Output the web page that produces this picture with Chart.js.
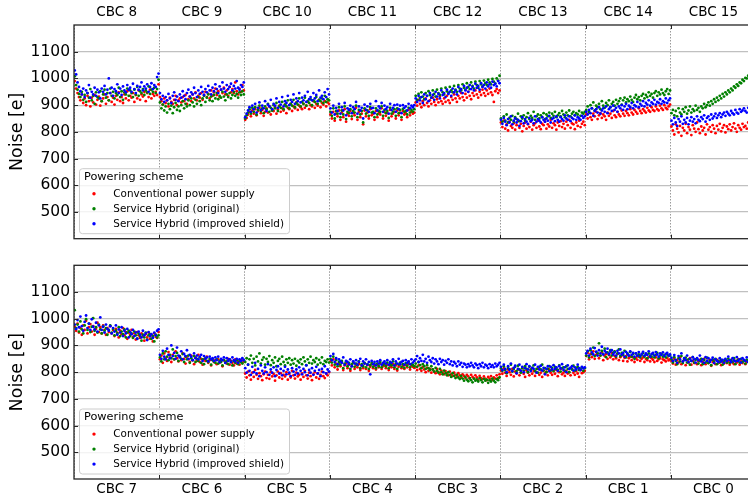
<!DOCTYPE html>
<html>
<head>
<meta charset="utf-8">
<script src="https://cdn.jsdelivr.net/npm/chart.js@4/dist/chart.umd.min.js"></script>
<style>
html, body { margin: 0; padding: 0; background: #fff; overflow: hidden; width: 748px; height: 499px; }
canvas { position: absolute; left: 0; }
#top { top: 0; }
#bottom { top: 252px; }
</style>
</head>
<body>
<canvas id="top" width="770" height="252"></canvas>
<canvas id="bottom" width="770" height="247"></canvas>
<script>
// chip labels of the two module sides
const topChips = ['CBC 8', 'CBC 9', 'CBC 10', 'CBC 11', 'CBC 12', 'CBC 13', 'CBC 14', 'CBC 15'];
const bottomChips = ['CBC 7', 'CBC 6', 'CBC 5', 'CBC 4', 'CBC 3', 'CBC 2', 'CBC 1', 'CBC 0'];
const noiseTicks = [500, 600, 700, 800, 900, 1000, 1100];
const legendTitle = 'Powering scheme';
const seriesLabels = ['Conventional power supply', 'Service Hybrid (original)', 'Service Hybrid (improved shield)'];
const seriesColors = ['#ff0000', '#008000', '#0000ff'];

// noise per channel, one row per chip
const topRed = [
  [990,962,945,930,918,940,908,925,900,935,915,895,928,910,938,902,920,932,898,915,925,940,905,930,918,945,912,928,902,935,920,948,915,930,908,940,925,952,918,935,928,945,912,938,925,955,920,940,932,950,915,945,930,958,925,942,935,950,938,978],
  [930,915,902,925,908,918,895,928,912,905,920,935,900,918,925,910,930,915,938,905,922,932,915,940,925,948,918,935,928,945,920,938,950,930,942,925,955,935,948,962,938,952,930,958,945,965,940,955,935,968,948,960,945,985,952,940,962,950,975,955],
  [845,852,865,875,858,880,868,885,862,878,890,870,882,860,875,888,872,895,865,880,878,892,868,885,898,875,888,880,902,870,890,885,905,878,895,888,910,882,898,892,885,905,890,898,912,885,900,895,915,890,905,898,920,892,908,902,915,895,910,905],
  [865,850,875,842,868,858,880,845,872,855,885,838,868,860,878,848,870,862,890,845,875,855,868,828,880,858,872,850,885,862,868,845,878,855,870,865,888,850,875,860,870,842,882,858,868,875,850,880,862,872,845,878,865,870,855,882,862,875,868,872],
  [910,898,920,905,892,915,900,925,908,895,918,905,928,912,900,922,910,932,915,905,925,912,935,918,908,930,920,940,925,912,935,925,945,930,918,942,928,950,935,922,945,935,955,940,928,950,938,958,945,935,955,942,962,948,938,912,952,960,945,955],
  [835,818,842,812,828,805,838,822,815,832,808,825,840,815,830,802,822,835,812,828,818,838,808,825,832,815,842,820,810,830,825,838,812,828,820,845,815,832,825,808,835,822,840,818,830,812,838,825,845,815,832,828,810,835,822,842,818,830,838,825],
  [865,850,872,855,845,868,858,875,848,862,870,852,865,858,845,872,860,868,852,878,862,855,875,865,858,880,868,860,878,870,862,885,872,865,882,875,868,888,878,870,885,878,872,890,880,875,892,882,878,895,885,880,898,888,882,900,890,885,895,902],
  [820,805,790,828,812,798,822,785,815,805,830,795,818,808,788,825,812,800,835,810,795,820,805,815,790,828,808,818,800,825,812,795,822,808,830,802,815,825,798,820,810,828,805,818,832,812,800,825,815,808,830,818,822,812,835,820,828,815,830,825]
];
const topGreen = [
  [1008,975,958,942,930,950,920,938,912,945,928,960,918,935,905,948,930,925,952,915,940,958,928,945,918,962,935,950,925,945,938,965,930,952,920,948,940,962,935,955,945,930,958,940,968,935,952,945,960,938,955,948,970,942,958,950,965,945,960,995],
  [910,888,902,880,895,872,905,885,898,870,892,908,882,895,878,900,915,888,905,895,918,900,925,910,895,920,905,930,915,900,925,935,912,928,940,918,932,915,938,925,945,922,935,928,950,932,918,940,930,945,925,938,950,935,942,928,948,938,952,940],
  [850,862,872,885,868,890,875,892,865,882,898,878,888,870,895,885,905,875,890,880,900,888,908,878,895,890,912,885,902,895,918,888,905,898,920,892,908,902,925,895,912,905,928,898,915,908,922,900,918,912,930,905,920,915,925,908,935,912,922,918],
  [875,860,888,850,878,868,892,855,880,865,895,848,875,870,885,858,878,872,898,855,882,865,878,835,888,868,880,860,892,872,875,855,888,865,878,875,895,860,882,870,878,852,890,868,876,885,860,888,870,882,855,886,875,878,865,890,872,882,876,885],
  [935,920,942,928,948,932,922,945,935,952,938,928,955,942,932,958,945,938,962,948,940,965,952,945,968,955,948,972,958,950,975,962,955,978,965,958,982,968,960,985,972,962,988,975,965,990,978,970,992,982,975,995,985,978,998,988,980,1000,992,1010],
  [850,838,858,842,865,835,852,845,860,838,855,848,868,840,858,850,862,842,855,870,848,860,852,875,845,858,865,850,862,855,870,848,865,858,872,852,868,860,875,855,862,870,858,878,865,855,872,862,880,858,868,875,862,870,865,878,860,872,868,875],
  [882,895,875,900,888,910,880,898,892,905,885,915,898,890,908,900,918,892,905,912,898,920,905,915,925,902,918,928,910,922,915,932,920,912,928,938,922,930,918,935,942,925,938,930,948,935,942,928,945,952,935,948,940,958,945,938,952,960,942,955],
  [870,882,862,878,858,888,872,865,885,875,892,868,880,895,872,885,878,898,882,890,875,895,888,905,892,900,910,898,915,905,922,912,928,918,935,925,942,932,948,940,955,948,962,955,970,965,978,972,985,982,995,990,1002,1000,1010,1015,1020,1025,1030,1035]
];
const topBlue = [
  [1030,1015,985,968,952,940,962,930,955,945,975,928,950,940,965,935,958,948,925,962,950,972,940,958,1000,945,965,935,960,952,978,945,962,938,970,955,948,975,958,965,950,980,960,945,972,958,968,985,955,970,962,978,950,968,982,960,975,968,1005,1018],
  [945,922,935,912,930,918,942,925,908,935,948,920,932,915,940,928,952,935,922,945,958,932,948,940,965,945,930,955,942,968,950,938,960,948,972,955,940,965,952,978,960,945,970,958,985,962,950,975,960,968,980,955,972,962,990,965,958,975,968,985],
  [855,868,880,892,875,898,885,905,872,890,910,882,898,888,915,878,902,895,920,885,905,898,925,890,912,902,930,895,915,908,935,900,920,912,940,905,925,915,945,910,928,918,935,912,950,922,930,918,945,925,938,915,955,928,935,922,948,930,960,940],
  [888,872,898,865,890,878,905,868,892,880,908,862,888,882,898,870,892,885,912,868,895,880,890,850,902,882,895,875,905,888,890,870,915,880,895,888,908,875,898,885,892,868,905,882,890,900,875,902,885,898,870,900,890,895,880,905,888,898,892,900],
  [925,912,935,918,930,908,940,922,935,915,945,928,938,920,950,932,942,925,955,938,945,930,958,942,950,935,962,948,955,940,968,952,960,945,972,955,965,950,975,960,968,955,980,965,972,958,982,968,975,962,985,970,978,965,988,975,980,970,990,982],
  [845,830,852,838,825,848,835,858,828,842,850,835,845,822,840,855,832,848,838,830,852,840,845,832,858,838,848,842,835,855,845,838,850,842,860,835,848,852,840,858,845,838,855,848,842,862,850,845,858,840,852,848,862,845,855,850,845,860,852,858],
  [875,865,882,870,888,860,878,885,872,892,868,880,888,875,895,870,885,892,878,898,882,890,875,895,888,900,882,895,905,885,898,892,908,888,900,895,912,892,905,898,915,895,908,902,918,898,910,905,920,902,912,908,922,905,915,910,925,908,918,925],
  [842,828,852,835,822,848,838,858,830,845,835,852,828,842,855,838,848,832,858,845,840,855,848,862,838,852,858,845,865,850,858,868,852,862,870,855,865,872,860,875,868,862,878,870,865,882,872,868,885,875,880,888,878,872,890,882,895,885,892,898]
];

const bottomRed = [
  [970,955,982,948,965,940,975,958,992,945,968,980,952,972,940,962,985,950,968,945,975,958,940,965,950,972,945,958,935,962,948,930,955,942,965,938,950,925,948,940,958,932,945,922,950,938,928,945,935,918,942,930,948,925,938,915,945,932,928,950],
  [848,862,835,870,852,842,875,855,838,865,848,878,852,840,860,845,870,850,832,858,848,838,862,845,830,855,842,865,838,850,828,848,842,858,835,845,825,850,838,845,830,848,835,842,822,845,838,832,850,828,842,835,825,848,832,840,828,845,835,840],
  [795,780,802,788,772,798,782,808,790,775,796,785,770,792,802,778,790,775,800,784,793,768,788,802,780,796,775,790,784,800,772,793,780,805,788,776,798,784,790,772,795,782,805,788,776,798,785,770,792,800,780,795,775,790,802,785,778,795,788,800],
  [840,825,848,818,832,810,830,822,838,808,825,832,815,828,805,822,835,812,826,818,830,808,824,815,832,812,826,805,820,830,815,824,810,828,818,832,812,822,826,815,828,808,822,818,830,812,825,806,820,828,815,822,812,826,818,830,810,824,820,816],
  [820,808,825,812,805,820,810,800,816,805,812,798,810,802,796,812,800,792,806,798,792,804,796,788,802,792,786,798,790,782,796,788,780,792,786,778,790,784,776,790,782,776,788,780,772,786,778,774,784,776,770,782,776,785,772,780,776,788,778,792],
  [806,794,814,798,786,810,800,790,812,784,802,795,810,788,800,815,794,782,806,798,788,810,794,804,786,800,812,790,798,782,806,795,802,788,810,798,790,805,794,808,785,800,812,792,798,786,805,795,800,788,812,798,790,804,795,782,808,796,800,805],
  [860,872,848,868,856,878,850,865,870,852,862,875,845,860,868,850,864,855,872,848,860,852,868,845,856,862,842,854,860,840,852,858,845,855,838,852,846,858,842,850,855,838,850,845,856,840,852,846,838,855,842,848,852,836,848,845,840,852,844,848],
  [842,832,850,828,845,836,855,830,840,848,826,845,836,852,828,842,834,848,830,840,846,826,838,850,830,842,834,846,824,838,844,830,846,834,840,826,838,832,844,834,840,828,846,836,830,842,836,848,828,840,834,844,830,838,842,828,840,834,838,836]
];
const bottomGreen = [
  [1032,965,978,952,990,960,945,975,998,958,982,950,970,1002,955,968,948,978,960,945,972,955,965,940,958,975,948,962,938,955,945,968,935,952,942,960,930,948,955,935,945,928,952,938,925,945,935,918,940,930,948,922,938,942,925,935,915,940,930,938],
  [855,840,870,848,878,858,845,865,852,885,848,860,872,842,858,850,868,838,858,848,862,835,852,845,860,838,850,842,855,835,848,830,852,842,838,850,828,845,840,835,848,832,842,838,825,845,835,840,830,848,838,825,842,835,845,830,840,838,832,845],
  [838,852,828,848,862,835,850,825,858,840,870,832,846,855,828,850,838,860,826,845,835,855,822,842,850,830,858,838,825,848,835,852,828,845,832,850,824,842,836,848,830,855,840,826,848,835,858,832,845,838,852,828,846,835,855,830,842,838,848,836],
  [850,836,858,828,845,822,838,828,842,815,832,840,822,835,812,830,838,820,832,826,840,815,830,822,835,818,830,812,826,835,820,830,815,832,822,838,818,828,832,822,836,815,830,825,840,818,832,812,828,836,820,830,816,834,824,838,818,830,826,822],
  [832,820,838,826,815,830,822,812,826,815,808,822,810,802,816,805,798,812,800,792,806,796,788,800,790,782,796,786,778,790,780,774,786,776,768,782,772,766,778,770,762,776,768,772,765,778,770,762,775,768,772,760,770,765,776,768,762,774,770,780],
  [814,805,822,808,796,816,810,828,802,812,820,804,824,810,798,816,806,822,812,800,820,808,816,825,804,812,798,820,810,828,806,815,800,812,822,806,816,804,820,812,808,825,802,815,818,805,822,812,800,816,810,824,806,815,820,808,812,818,805,815],
  [862,878,855,882,868,892,860,876,870,908,862,880,868,888,856,874,866,882,862,872,878,858,870,885,860,872,865,880,855,870,862,875,858,868,850,870,860,866,855,864,872,858,866,852,870,862,858,868,855,865,872,852,862,868,858,864,855,866,860,862],
  [848,836,856,842,830,852,840,860,834,846,854,836,848,828,842,856,836,846,850,832,842,850,830,846,836,854,834,842,826,846,838,850,830,842,836,846,828,840,846,836,850,834,844,838,852,830,842,846,836,850,838,844,832,846,840,836,848,838,842,845]
];
const bottomBlue = [
  [978,962,995,968,1008,972,955,988,1012,965,982,958,998,970,960,985,952,975,1005,958,970,948,978,962,955,972,945,965,952,975,940,960,948,968,935,955,945,962,930,950,942,958,935,948,925,952,940,930,955,938,945,920,950,935,942,928,948,938,955,960],
  [865,850,880,858,848,888,865,852,900,860,872,850,892,862,855,878,848,868,860,882,850,865,858,845,870,852,862,848,858,865,842,860,850,855,840,858,848,852,842,855,845,858,838,850,845,855,835,852,842,848,838,855,845,840,850,835,848,842,852,845],
  [815,798,828,805,790,820,800,835,795,812,785,825,805,795,818,800,830,790,810,798,818,785,808,822,795,812,788,805,820,792,810,798,785,815,802,790,810,795,818,805,792,812,800,825,788,808,798,815,790,805,820,795,808,785,812,800,822,795,810,802],
  [860,845,868,838,852,830,848,840,835,855,828,842,838,830,848,822,840,832,845,828,838,850,825,840,832,848,828,838,792,842,830,838,825,840,832,845,828,835,840,832,845,828,838,835,848,825,840,832,850,830,838,842,828,845,835,840,830,848,836,842],
  [848,860,838,852,842,865,840,850,835,858,845,838,852,832,848,840,830,850,838,845,828,842,835,848,830,840,825,838,832,822,840,828,835,820,832,828,818,830,822,835,825,818,832,826,815,830,822,835,818,828,824,815,830,820,826,818,832,822,828,835],
  [820,808,828,812,800,822,810,832,804,816,824,796,812,828,806,820,800,815,830,810,822,804,816,812,828,798,820,810,824,806,816,792,812,822,804,820,810,826,812,818,805,822,814,830,808,818,800,825,812,816,822,806,818,810,828,815,808,820,814,818],
  [870,880,862,888,874,866,890,876,862,882,870,895,866,880,874,888,868,876,882,866,874,862,880,870,885,866,872,858,876,868,862,878,865,872,858,870,862,875,860,868,876,862,870,865,878,858,868,872,862,875,866,858,870,865,874,860,868,872,862,866],
  [854,842,864,846,835,860,848,870,840,852,845,862,838,850,842,856,848,836,852,845,862,840,848,835,856,842,852,838,846,854,834,848,842,838,852,840,846,835,850,842,858,845,838,852,844,840,856,842,848,836,852,846,842,855,838,848,844,852,840,846]
];

Chart.defaults.font.family = '"DejaVu Sans", sans-serif';
Chart.defaults.color = '#000';

// spread the channels of each chip evenly inside its slot
function toPoints(rows) {
  const pts = [];
  rows.forEach((row, seg) => {
    row.forEach((v, j) => pts.push({ x: seg + (j + 0.5) / row.length, y: v }));
  });
  return pts;
}

const legendPlugin = {
  id: 'boxLegend',
  afterDraw(chart) {
    const { ctx, chartArea: a } = chart;
    const left = a.left + 5, top = a.bottom - 70.5, w = 210, h = 65;
    ctx.save();
    ctx.fillStyle = 'rgba(255,255,255,0.8)';
    ctx.strokeStyle = '#cccccc';
    ctx.lineWidth = 1;
    ctx.beginPath();
    if (ctx.roundRect) ctx.roundRect(left + 0.5, top + 0.5, w, h, 3);
    else ctx.rect(left + 0.5, top + 0.5, w, h);
    ctx.fill();
    ctx.stroke();
    ctx.textBaseline = 'middle';
    ctx.textAlign = 'left';
    ctx.fillStyle = '#000';
    ctx.font = '11.3px "DejaVu Sans"';
    ctx.fillText(legendTitle, left + 5, top + 9);
    ctx.font = '10.4px "DejaVu Sans"';
    seriesLabels.forEach((label, i) => {
      const y = top + 25.6 + i * 15;
      ctx.fillStyle = seriesColors[i];
      ctx.beginPath();
      ctx.arc(left + 15, y, 1.7, 0, Math.PI * 2);
      ctx.fill();
      ctx.fillStyle = '#000';
      ctx.fillText(label, left + 34.3, y);
    });
    ctx.restore();
  }
};

// axes frame and inward tick marks
const framePlugin = {
  id: 'frame',
  afterDraw(chart) {
    const { ctx, chartArea: a, scales } = chart;
    ctx.save();
    ctx.strokeStyle = '#262626';
    ctx.lineWidth = 1.3;
    ctx.strokeRect(a.left, a.top, a.right - a.left, a.bottom - a.top);
    ctx.lineWidth = 1;
    ctx.beginPath();
    for (let i = 1; i < topChips.length; i++) {
      const px = Math.round(scales.x.getPixelForValue(i)) + 0.5;
      ctx.moveTo(px, a.top); ctx.lineTo(px, a.top + 4);
      ctx.moveTo(px, a.bottom); ctx.lineTo(px, a.bottom - 4);
    }
    noiseTicks.forEach(v => {
      const py = Math.round(scales.y.getPixelForValue(v)) + 0.5;
      ctx.moveTo(a.left, py); ctx.lineTo(a.left + 4, py);
    });
    ctx.stroke();
    ctx.restore();
  }
};

function makePanel(id, chips, series, xPos, padding, xHeight, labelPad) {
  const datasets = series.map((rows, i) => ({
    label: seriesLabels[i],
    data: toPoints(rows),
    backgroundColor: seriesColors[i],
    borderWidth: 0,
    pointRadius: 1.4,
    order: series.length - i
  }));
  return new Chart(document.getElementById(id), {
    type: 'scatter',
    data: { datasets },
    options: {
      responsive: false,
      animation: false,
      layout: { padding },
      plugins: { legend: { display: false }, tooltip: { enabled: false } },
      scales: {
        x: {
          type: 'linear',
          position: xPos,
          min: 0,
          max: chips.length,
          afterBuildTicks: s => { s.ticks = chips.map((c, i) => ({ value: i + 0.5 })); },
          afterFit: s => { s.height = xHeight; },
          ticks: { autoSkip: false, maxRotation: 0, padding: labelPad, font: { size: 13.5 }, callback: (v, i) => chips[i] },
          grid: { offset: true, color: '#9a9a9a', lineWidth: 1, drawTicks: false },
          border: { display: false, dash: [1.5, 1.5] }
        },
        y: {
          min: 400,
          max: 1200,
          afterBuildTicks: s => { s.ticks = noiseTicks.map(v => ({ value: v })); },
          afterFit: s => { s.width = 74; },
          ticks: { padding: 4, font: { size: 15.5 }, callback: v => String(v) },
          grid: { color: '#c0c0c0', lineWidth: 1.2, drawTicks: false },
          border: { display: false },
          title: { display: true, text: 'Noise [e]', font: { size: 17.5 }, padding: { top: 7, bottom: 0 } }
        }
      }
    },
    plugins: [legendPlugin, framePlugin]
  });
}

makePanel('top', topChips, [topRed, topGreen, topBlue], 'top', { top: 0, bottom: 5, left: 0, right: 14 }, 25, 4);
makePanel('bottom', bottomChips, [bottomRed, bottomGreen, bottomBlue], 'bottom', { top: 5, bottom: 0, left: 0, right: 14 }, 20, 2.5);
</script>
</body>
</html>
